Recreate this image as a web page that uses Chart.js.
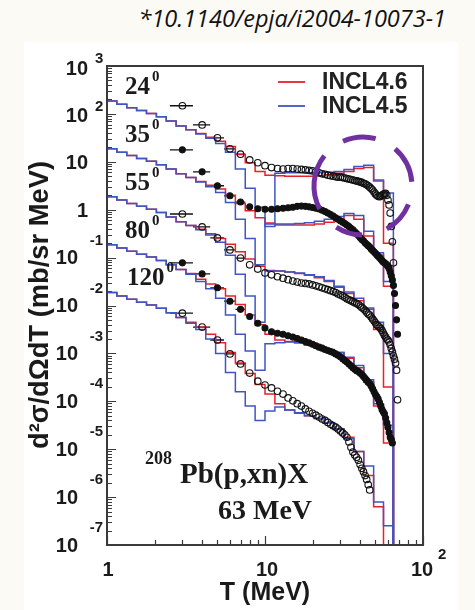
<!DOCTYPE html>
<html>
<head>
<meta charset="utf-8">
<script src="https://cdn.jsdelivr.net/npm/chart.js@4.4.1/dist/chart.umd.min.js"></script>
<style>
  html, body { margin: 0; padding: 0; }
  body { width: 475px; height: 610px; background: #fbfaf5; position: relative; overflow: hidden; }
  #panel { position: absolute; left: 24px; top: 42px; width: 434px; height: 568px; background: #fff; }
  #doi { position: absolute; right: 29px; top: 2px; line-height: 30px; font: italic 23.5px "Open Sans", sans-serif; color: #111; white-space: nowrap; }
  #c { position: absolute; left: 0; top: 0; }
</style>
</head>
<body>
<div id="panel"></div>
<div id="doi">*10.1140/epja/i2004-10073-1</div>
<canvas id="c" width="475" height="610"></canvas>
<script>
// histogram bin edges (MeV) of the INCL calculations
const binEdges = [1.000, 1.155, 1.334, 1.540, 1.778, 2.054, 2.371, 2.738, 3.162, 3.652,
                  4.217, 4.870, 5.623, 6.494, 7.499, 8.660, 10.00, 11.55, 13.34, 15.40,
                  17.78, 20.54, 23.71, 27.38, 31.62, 36.52, 42.17, 48.70, 56.23, 64.94];

// log10 of d2sigma/dOmega dT per bin (already scaled per angle)
const red24Log  = [2.27, 2.20, 2.13, 2.07, 2.01, 1.94, 1.85, 1.75, 1.67, 1.59, 1.51, 1.43, 1.32, 1.15, 0.98, 0.80, 0.72, 0.71, 0.70, 0.70, 0.70, 0.71, 0.73, 0.76, 0.80, 0.86, 0.88, 0.60, -0.70];
const blue24Log = [2.27, 2.20, 2.13, 2.07, 2.01, 1.94, 1.85, 1.75, 1.67, 1.58, 1.49, 1.38, 1.20, 0.85, 0.45, 0.05, -0.35, 0.76, 0.77, 0.77, 0.77, 0.77, 0.78, 0.80, 0.84, 0.90, 0.93, 0.62, 0.35];
const red35Log  = [1.27, 1.20, 1.13, 1.07, 1.01, 0.94, 0.85, 0.75, 0.67, 0.59, 0.51, 0.43, 0.30, 0.13, -0.02, -0.17, -0.28, -0.32, -0.32, -0.32, -0.32, -0.30, -0.26, -0.20, -0.12, -0.20, -0.55, -0.95, -1.60];
const blue35Log = [1.27, 1.20, 1.13, 1.07, 1.01, 0.94, 0.85, 0.75, 0.67, 0.58, 0.48, 0.36, 0.15, -0.20, -0.60, -1.15, -0.30, -0.30, -0.30, -0.29, -0.27, -0.24, -0.20, -0.14, -0.08, -0.12, -0.45, -0.90, -1.50];
const red55Log  = [0.27, 0.20, 0.13, 0.07, 0.01, -0.06, -0.15, -0.25, -0.33, -0.41, -0.50, -0.60, -0.72, -0.88, -1.03, -1.18, -1.27, -1.28, -1.30, -1.33, -1.37, -1.42, -1.50, -1.62, -1.75, -1.90, -2.08, -2.50, -3.70];
const blue55Log = [0.27, 0.20, 0.13, 0.07, 0.01, -0.06, -0.15, -0.25, -0.33, -0.42, -0.53, -0.68, -0.95, -1.35, -1.80, -2.35, -1.28, -1.28, -1.30, -1.32, -1.36, -1.40, -1.48, -1.60, -1.72, -1.85, -2.05, -2.35, -3.00];
const red80Log  = [-0.73, -0.80, -0.87, -0.93, -0.99, -1.06, -1.15, -1.25, -1.33, -1.45, -1.55, -1.65, -1.80, -1.98, -2.20, -2.40, -2.60, -2.72, -2.75, -2.78, -2.83, -2.88, -2.93, -2.98, -3.10, -3.30, -3.60, -4.10, -4.87];
const blue80Log = [-0.73, -0.80, -0.87, -0.93, -0.99, -1.06, -1.15, -1.25, -1.35, -1.50, -1.65, -1.85, -2.20, -2.60, -2.95, -3.35, -2.80, -2.78, -2.76, -2.78, -2.82, -2.86, -2.92, -2.98, -3.08, -3.25, -3.55, -4.05, -4.50];
const red120Log  = [-1.73, -1.80, -1.87, -1.93, -1.99, -2.06, -2.15, -2.25, -2.35, -2.45, -2.60, -2.78, -2.98, -3.20, -3.42, -3.65, -3.85, -4.05, -4.18, -4.25, -4.30, -4.36, -4.45, -4.58, -4.75, -5.05, -5.55, -6.20];
const blue120Log = [-1.73, -1.80, -1.87, -1.93, -1.99, -2.06, -2.15, -2.25, -2.37, -2.50, -2.70, -3.00, -3.40, -3.80, -4.10, -4.40, -4.20, -4.12, -4.18, -4.24, -4.30, -4.36, -4.45, -4.58, -4.78, -5.05, -5.35, -6.10, -6.60];

// measured neutron energies (MeV) and log10 of the data points
const energies = [3, 4, 5, 6, 7, 8, 9, 10, 11, 12, 13, 14, 15, 16, 17, 18, 19, 20, 21, 22,
                  23, 24, 25, 26, 27, 28, 29, 30, 31, 32, 33, 34, 35, 36, 37, 38, 39, 40, 41, 42,
                  43, 44, 45, 46, 47, 48, 49, 50, 51, 52, 53, 54, 55, 56, 57, 58, 59, 60, 61, 62,
                  63, 64, 65, 66, 67, 68, 69];
const xErrHalf = [0.5, 0.5, 0.5, 0.5, 0.5];

const data24Log = [2.17, 1.77, 1.50, 1.27, 1.16, 1.04, 0.98, 0.92, 0.88, 0.86, 0.85, 0.86, 0.86, 0.85, 0.84, 0.83, 0.82, 0.81, 0.79, 0.77,
                   0.75, 0.74, 0.72, 0.71, 0.70, 0.69, 0.68, 0.68, 0.67, 0.66, 0.65, 0.64, 0.63, 0.62, 0.61, 0.60, 0.59, 0.58, 0.57, 0.55,
                   0.54, 0.52, 0.50, 0.47, 0.44, 0.41, 0.37, 0.33, 0.30, 0.28, 0.27, 0.28, 0.30, 0.32, 0.33, 0.34, 0.30, 0.20, 0.10, -0.07,
                   -0.35, -0.67, -1.11];
const data35Log = [1.25, 0.79, 0.50, 0.29, 0.16, 0.06, 0.02, 0.01, 0.01, 0.02, 0.03, 0.04, 0.05, 0.07, 0.075, 0.07, 0.06, 0.045, 0.03, 0.015,
                   -0.01, -0.04, -0.07, -0.10, -0.13, -0.17, -0.20, -0.23, -0.26, -0.29, -0.32, -0.35, -0.39, -0.42, -0.46, -0.50, -0.54, -0.58, -0.62, -0.65,
                   -0.69, -0.72, -0.75, -0.78, -0.82, -0.85, -0.88, -0.91, -0.94, -0.97, -1.00, -1.03, -1.06, -1.09, -1.11, -1.13, -1.15, -1.18, -1.23, -1.30,
                   -1.38, -1.47, -1.58, -1.75, -2.00, -2.30, -2.60];
const data55Log = [-0.09, -0.36, -0.59, -0.84, -1.01, -1.15, -1.24, -1.32, -1.36, -1.40, -1.43, -1.46, -1.49, -1.51, -1.53, -1.54, -1.55, -1.57, -1.59, -1.61,
                   -1.63, -1.65, -1.67, -1.69, -1.71, -1.73, -1.76, -1.78, -1.80, -1.83, -1.86, -1.88, -1.90, -1.92, -1.94, -1.96, -1.98, -2.01, -2.04, -2.07,
                   -2.10, -2.14, -2.18, -2.20, -2.24, -2.28, -2.32, -2.36, -2.40, -2.43, -2.45, -2.48, -2.52, -2.57, -2.62, -2.66, -2.70, -2.72, -2.76, -2.82,
                   -2.90, -2.97, -3.05, -3.12, -3.20, -3.35, -3.97];
const data80Log = [-1.11, -1.34, -1.63, -1.91, -2.08, -2.23, -2.37, -2.47, -2.55, -2.58, -2.60, -2.63, -2.66, -2.69, -2.72, -2.75, -2.78, -2.81, -2.84, -2.87,
                   -2.89, -2.92, -2.94, -2.96, -2.98, -3.01, -3.04, -3.07, -3.11, -3.15, -3.18, -3.22, -3.26, -3.30, -3.33, -3.36, -3.38, -3.41, -3.44, -3.48,
                   -3.52, -3.56, -3.60, -3.63, -3.68, -3.74, -3.80, -3.86, -3.90, -3.95, -4.02, -4.10, -4.17, -4.22, -4.26, -4.35, -4.45, -4.54, -4.65, -4.75,
                   -4.80, -4.87];
const data120Log = [-2.16, -2.45, -2.72, -3.01, -3.22, -3.41, -3.58, -3.66, -3.72, -3.79, -3.85, -3.93, -3.99, -4.05, -4.10, -4.16, -4.21, -4.25, -4.29, -4.33,
                    -4.37, -4.40, -4.44, -4.48, -4.51, -4.54, -4.58, -4.62, -4.66, -4.70, -4.75, -4.85, -4.96, -5.06, -5.12, -5.17, -5.23, -5.32, -5.40, -5.47,
                    -5.55, -5.63, -5.74, -5.85];

const angleLabels = ['24', '35', '55', '80', '120'];
const modelNames = ['INCL4.6', 'INCL4.5'];

const RED = 'rgb(232,32,40)';
const BLUE = 'rgb(62,86,196)';

// step histogram: value of bin i holds from edge i to edge i+1, then drops off the axis
function histPoints(logs) {
  var pts = [];
  var i = 0;
  for (; i < logs.length; i++) pts.push({x: binEdges[i], y: Math.pow(10, logs[i])});
  pts.push({x: binEdges[i], y: 1e-9});
  return pts;
}
function dataPoints(logs) {
  return logs.map(function (v, i) { return {x: energies[i], y: Math.pow(10, v)}; });
}

var datasets = [];
[[data24Log, false], [data35Log, true], [data55Log, false], [data80Log, true], [data120Log, false]].forEach(function (d) {
  datasets.push({
    label: 'data', isData: true, data: dataPoints(d[0]), order: 0,
    pointStyle: 'circle', pointRadius: d[1] ? 3 : 3.3, pointBorderWidth: 1.1,
    pointBorderColor: '#111', pointBackgroundColor: d[1] ? '#111' : 'rgba(255,255,255,0)', showLine: false
  });
});
[blue24Log, blue35Log, blue55Log, blue80Log, blue120Log].forEach(function (l) {
  datasets.push({label: modelNames[1], data: histPoints(l), order: 1, showLine: true, stepped: true,
    borderColor: BLUE, borderWidth: 1.5, pointRadius: 0, fill: false});
});
[red24Log, red35Log, red55Log, red80Log, red120Log].forEach(function (l) {
  datasets.push({label: modelNames[0], data: histPoints(l), order: 2, showLine: true, stepped: true,
    borderColor: RED, borderWidth: 1.5, pointRadius: 0, fill: false});
});

var SANS = '"Liberation Sans", Arial, sans-serif';
var SERIF = '"Liberation Serif", "Times New Roman", serif';

var decor = {
  id: 'decor',
  beforeDatasetsDraw: function (chart) {
    var ctx = chart.ctx, a = chart.chartArea, x = chart.scales.x, y = chart.scales.y;
    ctx.save();
    // inward ticks
    ctx.strokeStyle = '#3a3a3a';
    ctx.lineWidth = 1.2;
    ctx.beginPath();
    for (var e = -7; e <= 3; e++) {
      for (var m = 1; m <= 9; m++) {
        if (e === 3 && m > 1) break;
        var py = Math.round(y.getPixelForValue(m * Math.pow(10, e))) + 0.5;
        var len = m === 1 ? 9 : 5;
        ctx.moveTo(a.left, py); ctx.lineTo(a.left + len, py);
      }
    }
    for (var ex = 0; ex <= 2; ex++) {
      for (var mx = 1; mx <= 9; mx++) {
        if (ex === 2 && mx > 1) break;
        var px = Math.round(x.getPixelForValue(mx * Math.pow(10, ex))) + 0.5;
        var l2 = mx === 1 ? 9 : 5;
        ctx.moveTo(px, a.bottom); ctx.lineTo(px, a.bottom - l2);
      }
    }
    ctx.stroke();
    // horizontal error bars
    ctx.strokeStyle = '#111';
    ctx.lineWidth = 1.3;
    chart.data.datasets.forEach(function (ds) {
      if (!ds.isData) return;
      ctx.beginPath();
      for (var i = 0; i < xErrHalf.length; i++) {
        var p = ds.data[i];
        var yy = y.getPixelForValue(p.y);
        ctx.moveTo(x.getPixelForValue(p.x - xErrHalf[i]), yy);
        ctx.lineTo(x.getPixelForValue(p.x + xErrHalf[i]), yy);
      }
      ctx.stroke();
    });
    ctx.restore();
  },
  afterDraw: function (chart) {
    var ctx = chart.ctx, a = chart.chartArea, x = chart.scales.x, y = chart.scales.y;
    ctx.save();
    // frame
    ctx.strokeStyle = '#3a3a3a';
    ctx.lineWidth = 2;
    ctx.strokeRect(a.left, a.top, a.right - a.left, a.bottom - a.top);

    ctx.fillStyle = '#1a1a1a';
    ctx.textBaseline = 'middle';
    // y tick labels
    for (var e = -7; e <= 3; e++) {
      var py = y.getPixelForValue(Math.pow(10, e));
      ctx.font = 'bold 20px ' + SANS;
      ctx.textAlign = 'right';
      if (e === 0) { ctx.fillText('1', a.left - 19, py + 2); continue; }
      if (e === 1) { ctx.fillText('10', a.left - 19, py + 2); continue; }
      if (e > 1) {
        ctx.fillText('10', a.left - 19, py + 3);
        ctx.font = 'bold 15px ' + SANS;
        ctx.textAlign = 'left';
        ctx.fillText(String(e), a.left - 12, py - 7);
      } else {
        ctx.fillText('10', a.left - 29, py + 1);
        ctx.font = 'bold 15px ' + SANS;
        ctx.fillText(String(e), a.left - 4, py - 17);
      }
    }
    // x tick labels
    ctx.font = 'bold 20px ' + SANS;
    ctx.textAlign = 'center';
    var ly = a.bottom + 25;
    ctx.fillText('1', x.getPixelForValue(1) + 1, ly);
    ctx.fillText('10', x.getPixelForValue(10) + 2, ly);
    ctx.fillText('10', x.getPixelForValue(100) - 1, ly);
    ctx.font = 'bold 15px ' + SANS;
    ctx.textAlign = 'left';
    ctx.fillText('2', x.getPixelForValue(100) + 15, ly - 15);
    // axis titles
    ctx.font = 'bold 25px ' + SANS;
    ctx.textAlign = 'center';
    ctx.fillText('T (MeV)', (a.left + a.right) / 2, a.bottom + 48, 96);
    ctx.save();
    ctx.translate(40, 305);
    ctx.rotate(-Math.PI / 2);
    ctx.font = 'bold 28px ' + SANS;
    ctx.fillText('d\u00b2\u03c3/d\u03a9dT (mb/sr MeV)', 0, 0, 288);
    ctx.restore();

    // angle labels
    var ay = [88, 136, 184, 232, 279];
    angleLabels.forEach(function (t, i) {
      ctx.font = 'bold 25px ' + SERIF;
      ctx.textAlign = 'left';
      var lx = a.left + (i === 4 ? 20 : 18);
      ctx.fillText(t, lx, ay[i]);
      var w = ctx.measureText(t).width;
      ctx.font = 'bold 15px ' + SERIF;
      ctx.fillText('0', lx + w + 2, ay[i] - 11);
    });

    // reaction
    ctx.textAlign = 'left';
    ctx.font = 'bold 18px ' + SERIF;
    ctx.fillText('208', 145, 459);
    ctx.font = 'bold 29px ' + SERIF;
    ctx.fillText('Pb(p,xn)X', 180, 476, 134);
    ctx.font = 'bold 28px ' + SERIF;
    ctx.fillText('63 MeV', 218, 512, 96);

    // legend
    [[RED, modelNames[0], 82], [BLUE, modelNames[1], 106]].forEach(function (it) {
      ctx.strokeStyle = it[0];
      ctx.lineWidth = 1.8;
      ctx.beginPath();
      ctx.moveTo(278, it[2]); ctx.lineTo(305, it[2]);
      ctx.stroke();
      ctx.font = 'bold 23px ' + SANS;
      ctx.fillStyle = '#222';
      ctx.fillText(it[1], 322, it[2] + 1);
    });

    // purple dashed highlight circle
    var cx = x.getPixelForValue(41.7), cy = y.getPixelForValue(3.13);
    ctx.strokeStyle = '#7030a0';
    ctx.lineWidth = 5;
    [[246, 285], [311, 355], [22, 61], [91, 123], [152, 218]].forEach(function (arc) {
      ctx.beginPath();
      ctx.arc(cx, cy, 49, arc[0] * Math.PI / 180, arc[1] * Math.PI / 180);
      ctx.stroke();
    });
    ctx.restore();
  }
};

new Chart(document.getElementById('c'), {
  type: 'scatter',
  data: { datasets: datasets },
  options: {
    responsive: false,
    animation: false,
    events: [],
    layout: { padding: { left: 107, right: 52, top: 66, bottom: 65 } },
    plugins: { legend: { display: false }, tooltip: { enabled: false } },
    scales: {
      x: { type: 'logarithmic', min: 1, max: 100, display: false },
      y: { type: 'logarithmic', min: 1e-7, max: 1e3, display: false }
    }
  },
  plugins: [decor]
});
</script>
</body>
</html>
